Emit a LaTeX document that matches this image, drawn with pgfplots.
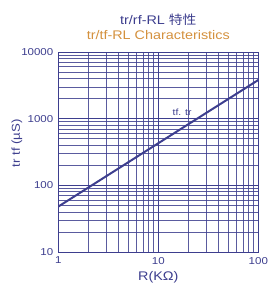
\documentclass[border=0pt]{standalone}
\usepackage{fontspec}
\setmainfont{Liberation Sans}[FakeStretch=1.15]
\newfontfamily\cjk{Noto Sans CJK SC}[FakeStretch=1.1]
\usepackage{pgfplots}
\pgfplotsset{compat=1.18}
\definecolor{cblue}{HTML}{3D3E8E}
\definecolor{cgrid}{HTML}{3D3E8E}
\definecolor{corange}{HTML}{D4913E}
\begin{document}
\begin{tikzpicture}
\begin{axis}[name=ax, at={(0,0)}, anchor=south west, scale only axis,
  width=200pt, height=200pt,
  xmode=log, ymode=log, xmin=1, xmax=100, ymin=10, ymax=10000,
  xtick={1,10,100}, xticklabels={1,10,100},
  minor xtick={2,3,4,5,6,7,8,9,20,30,40,50,60,70,80,90},
  ytick={10,100,1000,10000}, yticklabels={10,100,1000,10000},
  minor ytick={20,30,40,50,60,70,80,90,200,300,400,500,600,700,800,900,2000,3000,4000,5000,6000,7000,8000,9000},
  grid=both,
  major grid style={cgrid, line width=0.7pt},
  minor grid style={cgrid, line width=0.6pt, opacity=0.85},
  axis line style={cgrid, line width=0.8pt},
  major tick length=0pt, minor tick length=0pt,
  ticklabel style={font=\fontsize{10}{12}\selectfont, text=cblue},
  /pgf/number format/assume math mode=true,
  yticklabel style={xshift=-1.5pt},
  xticklabel style={yshift=-1.5pt},
]
\addplot[cblue, line width=2pt] coordinates {(1,48) (10,428) (100,3800)};
\node[text=cblue, font=\fontsize{9}{10}\selectfont] at (axis cs:17.3,1260) {tf. tr};
\end{axis}
\node[anchor=base, text=cblue, font=\fontsize{12.5}{14}\selectfont] at (100pt,227pt) {tr/rf-RL {\cjk 特性}};
\node[anchor=base, text=corange, font=\fontsize{12.5}{14}\selectfont] at (100pt,212pt) {tr/tf-RL Characteristics};
\node[anchor=base, rotate=90, text=cblue, font=\fontsize{11.5}{13}\selectfont] at (-38.3pt,108.7pt) {tr tf (µS)};
\node[anchor=base, text=cblue, font=\fontsize{12.5}{14}\selectfont] at (100pt,-28pt) {R(KΩ)};
\pgfresetboundingbox
\path[use as bounding box] (-58.3pt,-39pt) rectangle (208.7pt,252pt);
\end{tikzpicture}
\end{document}
